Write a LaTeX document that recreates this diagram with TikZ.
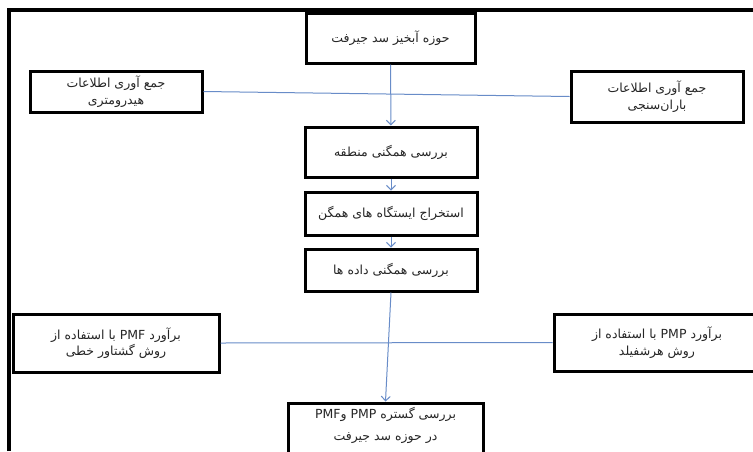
\documentclass[tikz,border=0pt]{standalone}
\usepackage{fontspec}
\setmainfont{DejaVu Sans}
\newfontfamily\fa[Script=Arabic]{DejaVu Sans}
\TeXXeTstate=1
\usetikzlibrary{arrows.meta}
\tikzset{
  box/.style={draw=black, line width=3pt, fill=white, align=center, inner sep=2pt,
    text=black!85, font=\fa\fontsize{12.5}{16.5}\selectfont},
  link/.style={draw=linkblue, line width=1pt},
  arr/.style={link, -{Straight Barb[length=4.5pt,width=9pt]}},
  frame/.style={draw=black, line width=3.5pt}
}
\definecolor{linkblue}{RGB}{104,140,200}
\begin{document}
\begin{tikzpicture}[x=1pt,y=-1pt]
\useasboundingbox (0,0) rectangle (753,451);
\fill[white] (0,0) rectangle (753,451);
% frame
\coordinate (fa) at (9,451);
\coordinate (fb) at (9,10);
\coordinate (fc) at (753,10);
\draw[frame] (fa) -- (fb) -- (fc);
% nodes
\node[box, minimum width=169pt, minimum height=50pt] (top) at (390.5,38) {\beginR حوزه آبخیز سد جیرفت\endR};
\node[box, minimum width=172pt, minimum height=41pt] (hyd) at (116,91.5) {\beginR جمع آوری اطلاعات\endR\\\beginR هیدرومتری\endR};
\node[box, minimum width=172pt, minimum height=51pt] (rain) at (657,96.5) {\beginR جمع آوری اطلاعات\endR\\\beginR باران‌سنجی\endR};
\node[box, minimum width=172pt, minimum height=50pt] (reg) at (391,152) {\beginR بررسی همگنی منطقه\endR};
\node[box, minimum width=172pt, minimum height=43pt] (st) at (391,213.5) {\beginR استخراج ایستگاه های همگن\endR};
\node[box, minimum width=172pt, minimum height=42pt] (dat) at (391,270) {\beginR بررسی همگنی داده ها\endR};
\node[box, minimum width=206pt, minimum height=58pt] (pmf) at (116,343) {\beginR برآورد \beginL PMF\endL{} با استفاده از\endR\\\beginR روش گشتاور خطی\endR};
\node[box, minimum width=206pt, minimum height=57pt] (pmp) at (657,342.5) {\beginR برآورد \beginL PMP\endL{} با استفاده از\endR\\\beginR روش هرشفیلد\endR};
\node[box, font=\fa\fontsize{12.5}{22}\selectfont, minimum width=195pt, minimum height=67pt, text depth=26pt] (res) at (385.5,436.5) {\beginR بررسی گستره \beginL PMP\endL{} و\beginL PMF\endL\endR\\\beginR در حوزه سد جیرفت\endR};
% connectors
\draw[link] (hyd.east) -- (rain.west);
\draw[link] (pmf.east) -- (pmp.west);
\draw[arr] (top) -- (reg);
\draw[arr] (reg) -- (st);
\draw[arr] (st) -- (dat);
\draw[arr] (dat.south) -- (res.north);
\end{tikzpicture}
\end{document}
